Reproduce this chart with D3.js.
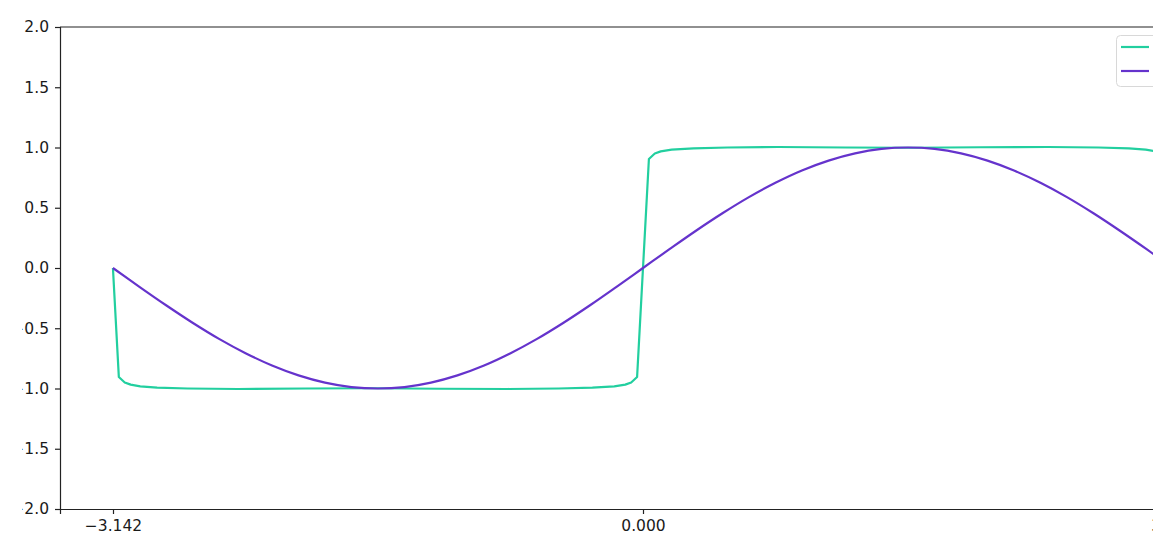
<!DOCTYPE html>
<html><head><meta charset="utf-8">
<script src="https://cdn.jsdelivr.net/npm/d3@7"></script>
<style>body{margin:0;background:#fff}svg{display:block}text{font-family:"DejaVu Sans",sans-serif}</style>
</head><body><svg id="c" width="1175" height="544"></svg>
<script>
// ---- data ----
const xTickValues = [-3.14159, 0, 3.14159];
const xTickLabels = ["\u22123.142", "0.000", "3.142"];
const yTickValues = [2.0, 1.5, 1.0, 0.5, 0.0, -0.5, -1.0, -1.5, -2.0];
const yTickLabels = ["2.0", "1.5", "1.0", "0.5", "0.0", "\u22120.5", "\u22121.0", "\u22121.5", "\u22122.0"];

const sinX = [-3.142,-2.985,-2.827,-2.670,-2.513,-2.356,-2.199,-2.042,-1.885,-1.728,-1.571,-1.414,-1.257,-1.100,-0.942,-0.785,-0.628,-0.471,-0.314,-0.157,0,
  0.157,0.314,0.471,0.628,0.785,0.942,1.100,1.257,1.414,1.571,1.728,1.885,2.042,2.199,2.356,2.513,2.670,2.827,2.985,3.142];
const sinY = [0,-0.156,-0.309,-0.454,-0.588,-0.707,-0.809,-0.891,-0.951,-0.988,-1,-0.988,-0.951,-0.891,-0.809,-0.707,-0.588,-0.454,-0.309,-0.156,0,
  0.156,0.309,0.454,0.588,0.707,0.809,0.891,0.951,0.988,1,0.988,0.951,0.891,0.809,0.707,0.588,0.454,0.309,0.156,0];

const sqX = [-3.142,-3.107,-3.072,-3.037,-2.98,-2.88,-2.7,-2.4,-2.0,-1.6,-1.2,-0.8,-0.5,-0.3,-0.17,-0.105,-0.07,-0.035,
  0.035,0.07,0.105,0.17,0.3,0.5,0.8,1.2,1.6,2.0,2.4,2.7,2.88,2.98,3.037,3.072,3.107,3.142];
const sqY = [0,-0.905,-0.95,-0.968,-0.982,-0.993,-1.0,-1.004,-1.0,-0.998,-1.002,-1.004,-1.0,-0.993,-0.982,-0.968,-0.95,-0.905,
  0.905,0.95,0.968,0.982,0.993,1.0,1.004,1.0,0.998,1.002,1.004,1.0,0.993,0.982,0.968,0.95,0.905,0];

const colors = {square: "#22cf9f", sine: "#6533cc"};

// ---- chart ----
const svg = d3.select("#c");
const L = 60, R = 1226, T = 27, B = 509;
const x = d3.scaleLinear().domain([-1.1*Math.PI, 1.1*Math.PI]).range([L, R]);
const y = d3.scaleLinear().domain([-2, 2]).range([B, T]);

svg.append("defs").append("clipPath").attr("id","vis")
  .append("rect").attr("x",22).attr("y",0).attr("width",1131).attr("height",544);
svg.append("defs").append("clipPath").attr("id","plot")
  .append("rect").attr("x",L).attr("y",T).attr("width",R-L).attr("height",B-T);

const g = svg.append("g").attr("clip-path","url(#vis)");

const pg = g.append("g").attr("clip-path","url(#plot)");
pg.append("path").datum(sqX.map((v,i)=>[v,sqY[i]]))
  .attr("d", d3.line().x(d=>x(d[0])).y(d=>y(d[1])).curve(d3.curveLinear)).attr("fill","none")
  .attr("stroke",colors.square).attr("stroke-width",2.2).attr("stroke-linejoin","round");
pg.append("path").datum(sinX.map((v,i)=>[v,sinY[i]]))
  .attr("d", d3.line().x(d=>x(d[0])).y(d=>y(d[1])).curve(d3.curveCatmullRom)).attr("fill","none")
  .attr("stroke",colors.sine).attr("stroke-width",2.2);

// axes
const yAxis = d3.axisLeft(y).tickValues(yTickValues).tickFormat((d,i)=>yTickLabels[i]).tickSizeOuter(0).tickSize(5).tickPadding(6);
const xAxis = d3.axisBottom(x).tickValues(xTickValues).tickFormat((d,i)=>xTickLabels[i]).tickSizeOuter(0).tickSize(5).tickPadding(6);
const ya = g.append("g").attr("transform",`translate(${L},0)`).call(yAxis);
const xa = g.append("g").attr("transform",`translate(0,${B})`).call(xAxis);
[ya, xa].forEach(a=>{
  a.selectAll("path.domain").attr("stroke","#222").attr("stroke-width",1.2);
  a.selectAll(".tick line").attr("stroke","#222").attr("stroke-width",1.2);
  a.selectAll("text").attr("font-size",15.5).attr("fill","#1a1a1a").attr("font-family","DejaVu Sans");
});
g.append("line").attr("x1",L).attr("x2",R).attr("y1",T).attr("y2",T).attr("stroke","#222").attr("stroke-width",1.2);
g.append("line").attr("x1",R).attr("x2",R).attr("y1",T).attr("y2",B).attr("stroke","#222").attr("stroke-width",1.2);

// legend
const lg = g.append("g");
lg.append("rect").attr("x",1116.5).attr("y",35.5).attr("width",110).attr("height",51).attr("rx",4)
  .attr("fill","#fff").attr("fill-opacity",0.8).attr("stroke","#d8d8d8").attr("stroke-width",1);
[["square",47],["sine",71]].forEach(([k,yy])=>{
  lg.append("line").attr("x1",1121).attr("x2",1149).attr("y1",yy).attr("y2",yy)
    .attr("stroke",colors[k]).attr("stroke-width",2.2);
});
</script></body></html>
